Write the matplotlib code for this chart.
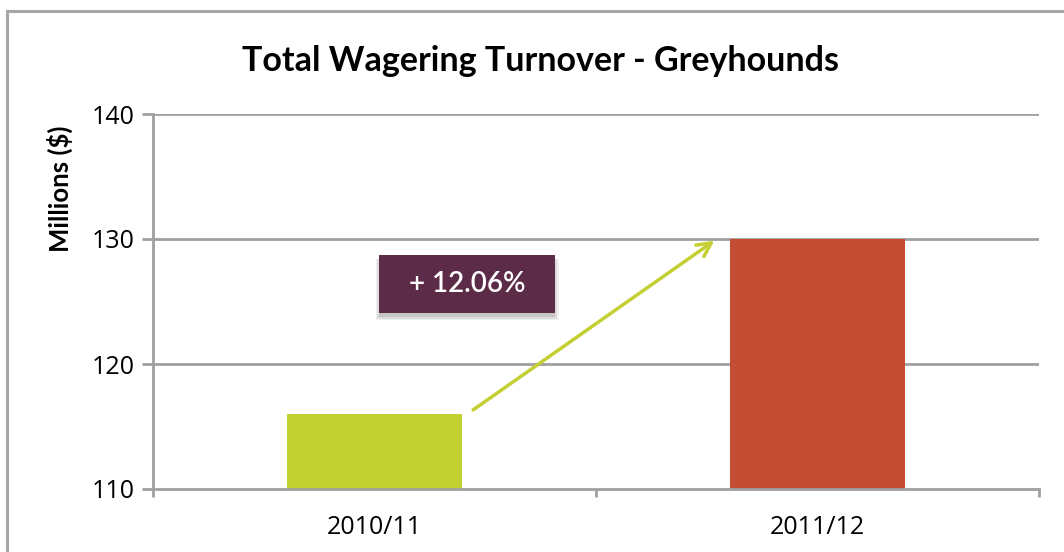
import matplotlib
matplotlib.use("Agg")
import matplotlib.pyplot as plt
from matplotlib.patches import Rectangle

categories = ["2010/11", "2011/12"]
values = [116.0, 130.0]
bar_colors = ["#C2D030", "#C44D33"]
y_ticks = [110, 120, 130, 140]
title = "Total Wagering Turnover - Greyhounds"
ylabel = "Millions ($)"
change_label = "+ 12.06%"

fig = plt.figure(figsize=(10.64, 5.52), dpi=100)
fig.patch.set_facecolor("white")

# outer frame
fig.patches.append(Rectangle((7/1064, -0.1), 1.2, (552-11)/552 + 0.1,
                             transform=fig.transFigure, fill=False,
                             edgecolor="#A6A6A6", linewidth=2.2))

ax = fig.add_axes([153/1064, 63/552, (1039-153)/1064, (489-114)/552])
x = list(range(len(categories)))
bw = 0.395
ax.bar(x, [v - y_ticks[0] for v in values], bottom=y_ticks[0], width=bw,
       color=bar_colors, zorder=3)

ax.set_xlim(-0.5, len(categories) - 0.5)
ax.set_ylim(y_ticks[0], y_ticks[-1])
ax.set_yticks(y_ticks)
ax.set_yticklabels([str(t) for t in y_ticks], fontfamily="Open Sans", fontsize=18)
ax.set_xticks(x)
ax.set_xticklabels(categories, fontfamily="Open Sans", fontsize=18)
ax.tick_params(axis="x", length=0, pad=19)
ax.tick_params(axis="y", length=8, width=2, color="#A0A0A0", pad=5)
# category boundary ticks
for b in [-0.5, 0.5, 1.5]:
    ax.plot([b, b], [0, -0.02], transform=ax.get_xaxis_transform(),
            color="#A0A0A0", lw=2, clip_on=False, solid_capstyle="butt")

for t in y_ticks[1:]:
    ax.axhline(t, color="#A0A0A0", lw=2, zorder=1)
for s in ["top", "right"]:
    ax.spines[s].set_visible(False)
for s in ["left", "bottom"]:
    ax.spines[s].set_color("#A0A0A0")
    ax.spines[s].set_linewidth(2)
ax.spines["bottom"].set_zorder(4)

fig.text(540/1064, 1 - 61/552, title, fontfamily="Lato", fontweight="bold",
         fontsize=24.5, ha="center", va="center")
fig.text(60/1064, 1 - 189/552, ylabel, fontfamily="Lato", fontweight="bold",
         fontsize=18.5, ha="center", va="center", rotation=90)

# arrow from bar 1 top to bar 2 top
ax.annotate("", xy=(1 - bw/2 - 0.03, values[1]), xytext=(bw/2 + 0.02, values[0] + 0.2),
            arrowprops=dict(arrowstyle="->,head_length=1.0,head_width=0.5",
                            color="#C3CF32", lw=2.5), zorder=5)

# label box
cx, cy, w, h = 0.209, 126.4, 0.397, 4.64
for i, a in enumerate([0.10, 0.08, 0.06]):
    ax.add_patch(Rectangle((cx - w/2 - 0.004*i, cy - h/2 - 0.35 - 0.1*i), w + 0.008*i, h + 0.1*i,
                           color="black", alpha=a, lw=0, zorder=5))
ax.add_patch(Rectangle((cx - w/2, cy - h/2), w, h, color="#5C2B47", lw=0, zorder=6))
ax.text(cx, cy, change_label, color="white", fontfamily="Lato", fontweight="semibold",
        fontsize=20, ha="center", va="center", zorder=7)

fig.savefig("out.png", dpi=100)
